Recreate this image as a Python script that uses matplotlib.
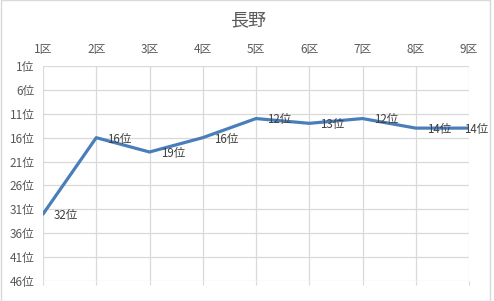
import matplotlib
matplotlib.use("Agg")
import matplotlib.pyplot as plt
from matplotlib.patches import Rectangle

plt.rcParams['font.family'] = ['Noto Sans CJK JP', 'DejaVu Sans']

# data
districts = ["1区", "2区", "3区", "4区", "5区", "6区", "7区", "8区", "9区"]
ranks = [32, 16, 19, 16, 12, 13, 12, 14, 14]
rank_ticks = [1, 6, 11, 16, 21, 26, 31, 36, 41, 46]

text_color = "#595959"
grid_color = "#d9d9d9"
line_color = "#4a7ebb"

fig = plt.figure(figsize=(4.94, 3.01), dpi=100)
ax = fig.add_axes([43 / 494, 1 - 281 / 301, 426 / 494, 215 / 301])

x = list(range(len(districts)))
ax.plot(x, ranks, color=line_color, linewidth=2.3, solid_capstyle="round",
        solid_joinstyle="round", zorder=3)
for xi, r in zip(x, ranks):
    if xi == len(districts) - 1:
        # last label is pushed inside the chart area
        ax.annotate(f"{r}位", (xi, r), xytext=(14, -1), textcoords="offset points",
                    ha="right", va="center", fontsize=8.3, color="#404040", zorder=4,
                    annotation_clip=False)
    else:
        ax.annotate(f"{r}位", (xi, r), xytext=(8, -1), textcoords="offset points",
                    ha="left", va="center", fontsize=8.3, color="#404040", zorder=4)

ax.set_xlim(0, len(districts) - 1)
ax.set_ylim(46, 1)
ax.set_yticks(rank_ticks)
ax.set_yticklabels([f"{t}位" for t in rank_ticks])
ax.set_xticks(x)
ax.set_xticklabels(districts)
ax.xaxis.tick_top()
ax.tick_params(axis="x", which="both", top=False, bottom=True, labelbottom=False,
               labeltop=True, length=3, color=grid_color, labelsize=8.5,
               labelcolor=text_color, pad=4)
ax.tick_params(axis="y", length=0, labelsize=8.5, labelcolor=text_color, pad=6)
ax.grid(True, color=grid_color, linewidth=0.9)
for s in ax.spines.values():
    s.set_visible(False)

fig.text(248 / 494, 1 - 20 / 301, "長野", ha="center", va="center",
         fontsize=13, color=text_color)
fig.patches.append(Rectangle((1 / 494, 0), 489 / 494, 1, transform=fig.transFigure,
                             fill=False, edgecolor=grid_color, linewidth=1))

fig.savefig("out.png", dpi=100)
